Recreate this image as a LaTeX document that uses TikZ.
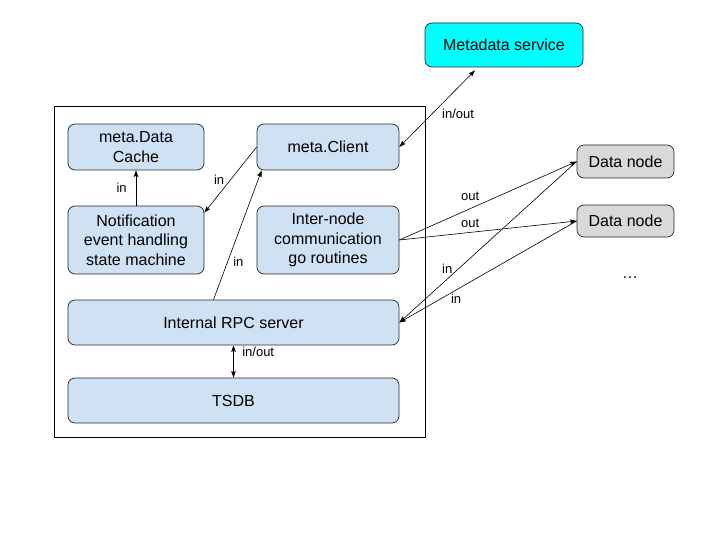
\documentclass[tikz,border=0pt]{standalone}
\usepackage{fontspec}
\setmainfont{Liberation Sans}
\usepackage{tikz}
\definecolor{boxblue}{RGB}{207,226,243}
\definecolor{metacyan}{RGB}{0,255,255}
\definecolor{nodegray}{RGB}{217,217,217}
\definecolor{edgegray}{RGB}{40,40,40}
\usetikzlibrary{positioning,arrows.meta}
\tikzset{%
  block/.style={draw=edgegray, rectangle, rounded corners=7pt, line width=0.7pt, fill=boxblue,
    align=center, inner sep=0pt, font=\fontsize{16}{19.5}\selectfont},% component box
  remote/.style={block, fill=nodegray},% other data node
  service/.style={block, fill=metacyan},% metadata service
  lbl/.style={font=\fontsize{13}{15}\selectfont, inner sep=1pt},% label at edge
  flow/.style={line width=0.6pt, -{Stealth[length=6.5pt,width=4.5pt,inset=1pt]}},% one way
  dflow/.style={line width=0.6pt, {Stealth[length=6.5pt,width=4.5pt,inset=1pt]}-{Stealth[length=6.5pt,width=4.5pt,inset=1pt]}}% both ways
}

\begin{document}
\begin{tikzpicture}[x=1pt, y=-1pt]
\useasboundingbox (0,0) rectangle (720,540);
\draw[line width=0.7pt] (54,106) rectangle (425,437);

\node[block, minimum width=136pt, minimum height=46pt] (cache) at (136,147) {meta.Data\\Cache};
\node[block, minimum width=142pt, minimum height=46pt] (client) at (328,147) {meta.Client};
\node[block, minimum width=136pt, minimum height=68pt] (notif) at (136,240) {Notification\\event handling\\state machine};
\node[block, minimum width=142pt, minimum height=68pt] (inter) at (328,240) {Inter-node\\communication\\go routines};
\node[block, minimum width=331pt, minimum height=45pt] (rpc) at (233.5,322.5) {Internal RPC server};
\node[block, minimum width=331pt, minimum height=45pt] (tsdb) at (233.5,400.5) {TSDB};

\node[service, minimum width=158pt, minimum height=44pt] (meta) at (504,45) {Metadata service};
\node[remote, minimum width=97pt, minimum height=33pt] (dn1) at (625.5,161.5) {Data node};
\node[remote, minimum width=97pt, minimum height=32pt] (dn2) at (625.5,221) {Data node};
\node[font=\fontsize{16}{19}\selectfont] (more) at (630,278) {\ldots};

\draw (notif.north) edge[flow] node[lbl, left=8pt] {in} (cache.south);
\draw (client.west) edge[flow] node[lbl, left=5pt] {in} ([yshift=-7pt]notif.north east);
\draw ([xshift=-20pt]rpc.north) edge[flow] node[lbl, pos=.29, right=4.5pt] {in} ([xshift=5pt]client.south west);
\draw (client.east) edge[dflow] node[lbl, pos=.43, right=9pt] {in/out} ([xshift=-29pt,yshift=-3pt]meta.south);

\draw (inter.east) edge[flow] node[lbl, pos=.4, above=7pt] {out} (dn1.west);
\draw (inter.east) edge[flow] node[lbl, pos=.4, above=3pt] {out} (dn2.west);
\draw (dn1.west) edge[flow] node[lbl, pos=.73, above=4pt] {in} (rpc.east);
\draw (dn2.west) edge[flow] node[lbl, pos=.68, below=2.5pt] {in} (rpc.east);

\draw (rpc.south) edge[dflow] node[lbl, pos=.2, right=7.5pt] {in/out} (tsdb.north);

\end{tikzpicture}
\end{document}
